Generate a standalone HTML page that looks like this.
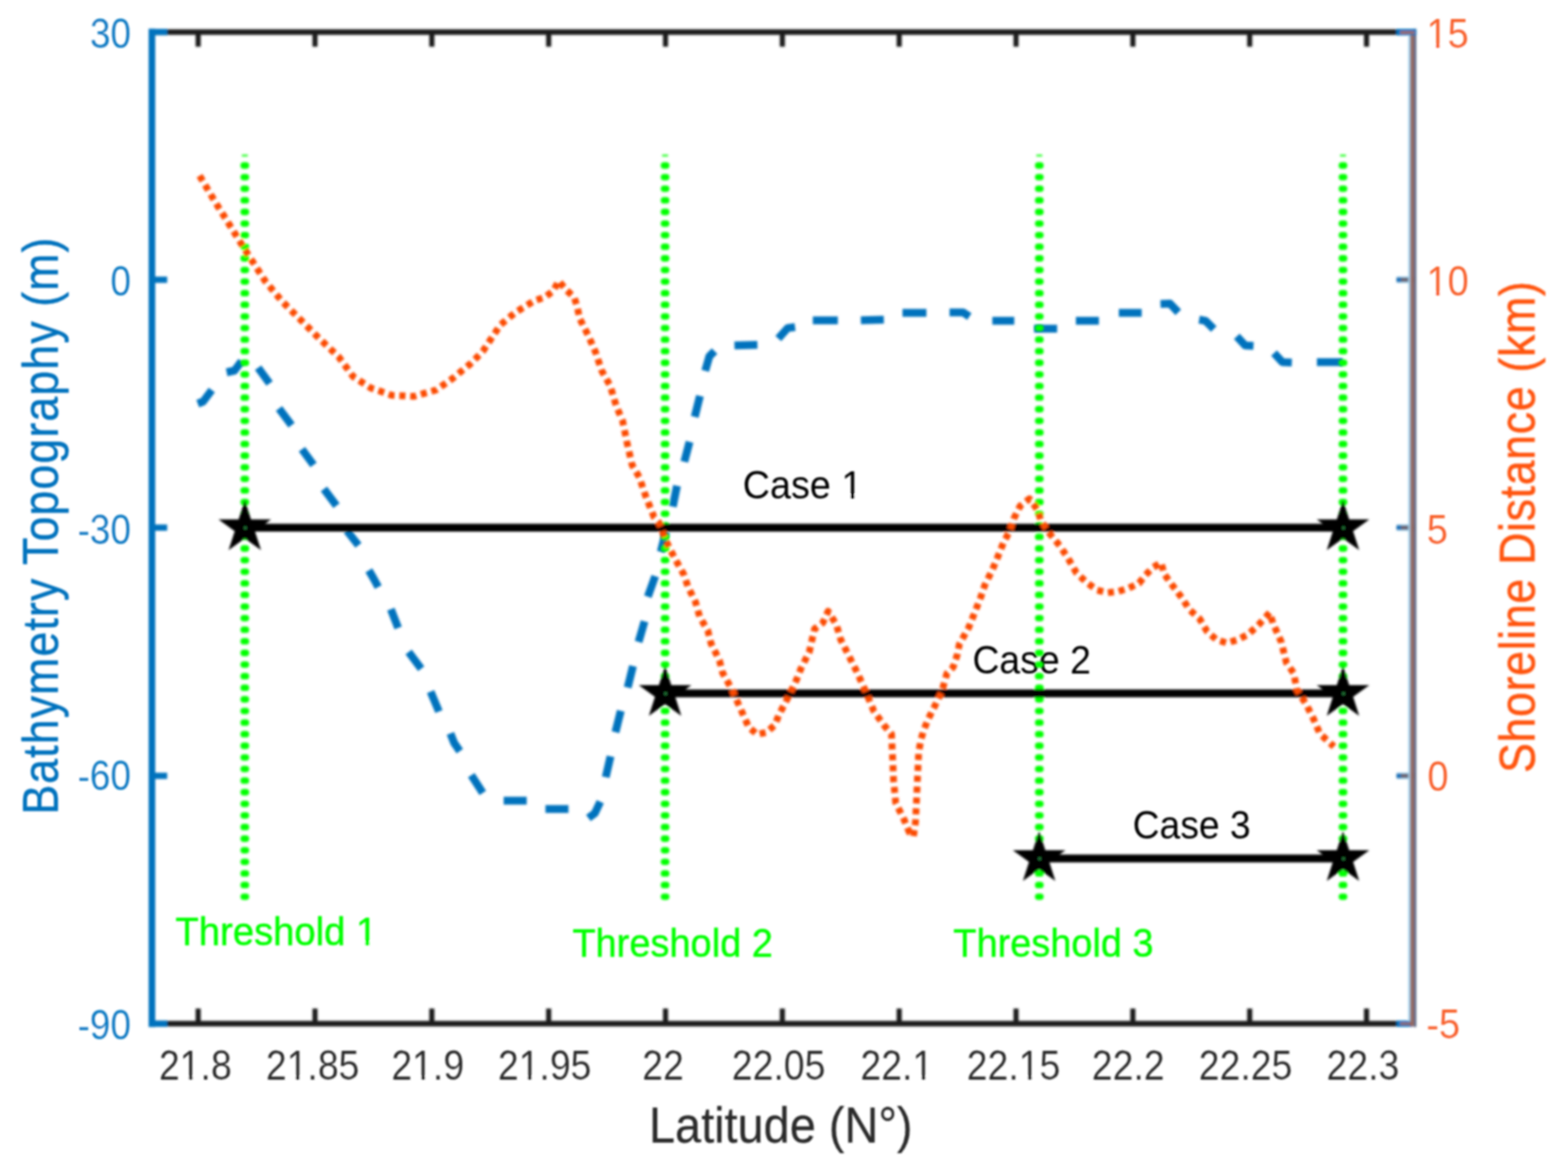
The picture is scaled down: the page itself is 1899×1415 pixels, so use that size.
<!DOCTYPE html>
<html lang="en"><head><meta charset="utf-8"><title>Bathymetry Topography and Shoreline Distance vs Latitude</title>
<style>html,body{margin:0;padding:0;background:#fff;}body{width:1899px;height:1415px;overflow:hidden;}svg{display:block;}text{font-family:"Liberation Sans",Arial,Helvetica,sans-serif;}</style>
</head><body>
<svg width="1899" height="1415" viewBox="0 0 1899 1415" role="img" aria-label="Bathymetry topography and shoreline distance versus latitude">
<defs><filter id="soft" x="0" y="0" width="1899" height="1415" filterUnits="userSpaceOnUse"><feGaussianBlur stdDeviation="1.6"/></filter><filter id="softt" x="0" y="0" width="1899" height="1415" filterUnits="userSpaceOnUse"><feGaussianBlur stdDeviation="1.15"/></filter></defs>
<rect width="1899" height="1415" fill="#fff"/>
<g filter="url(#soft)">
<g fill="none" stroke="#0072BD" stroke-width="9.5" stroke-linejoin="round">
<path d="M239.5,489.0 L246.0,486.5 L256.5,472.5"/>
<path d="M274.5,451.0 L284.0,449.0 L292.5,437.5"/>
<path d="M312.6,445.5 L326.5,464.5"/>
<path d="M337.9,494.9 L353.1,515.1"/>
<path d="M365.7,544.2 L379.7,563.2"/>
<path d="M392.3,592.3 L407.5,612.6"/>
<path d="M420.1,642.9 L434.1,660.6"/>
<path d="M446.7,691.0 L452.0,700.0 L458.1,711.2"/>
<path d="M473.4,738.0 L482.2,760.7"/>
<path d="M494.9,789.8 L510.1,810.1"/>
<path d="M521.5,837.9 L531.6,862.0"/>
<path d="M545.5,888.5 L550.0,900.0 L556.9,910.0"/>
<path d="M570.8,939.1 L584.7,960.6"/>
<path d="M610.0,970.0 L637.9,970.0"/>
<path d="M660.6,980.1 L688.5,980.1"/>
<path d="M712.6,991.0 L720.4,985.2 L727.0,971.3"/>
<path d="M733.6,941.5 L739.4,916.2"/>
<path d="M745.4,887.0 L751.8,861.2"/>
<path d="M760.2,832.8 L766.6,806.8"/>
<path d="M773.4,777.6 L780.6,752.8"/>
<path d="M784.6,722.8 L793.5,698.0"/>
<path d="M800.3,668.5 L806.5,644.0"/>
<path d="M814.8,613.8 L819.9,588.5"/>
<path d="M828.8,559.4 L835.1,535.3"/>
<path d="M841.4,505.0 L847.7,479.7"/>
<path d="M854.1,449.3 L859.1,431.6 L865.4,425.3"/>
<path d="M889.5,418.4 L917.3,417.7"/>
<path d="M942.6,410.1 L954.0,397.4 L962.9,396.2"/>
<path d="M984.4,388.1 L1014.7,388.1"/>
<path d="M1042.6,388.0 L1070.4,387.3"/>
<path d="M1093.0,379.0 L1122.0,379.0"/>
<path d="M1150.0,378.4 L1166.4,378.4 L1174.0,383.5"/>
<path d="M1201.8,388.6 L1228.4,388.6"/>
<path d="M1252.4,398.2 L1280.3,398.2"/>
<path d="M1303.0,388.6 L1330.9,388.6"/>
<path d="M1355.0,379.0 L1382.7,379.0"/>
<path d="M1405.5,368.3 L1416.9,367.8 L1427.0,378.4"/>
<path d="M1452.3,387.3 L1460.0,388.6 L1470.0,398.7"/>
<path d="M1497.9,407.5 L1508.0,418.4 L1518.1,419.0"/>
<path d="M1543.0,427.8 L1553.1,438.7 L1564.5,439.2"/>
<path d="M1594.9,438.7 L1626.0,438.7"/>
</g>
</g>
<g filter="url(#softt)"><text transform="translate(1177.63,815.80) scale(0.9248,1)" font-size="49.0px" fill="#000000">Case 2</text></g>
<g filter="url(#soft)">
<g fill="none" stroke="#00FF00" stroke-width="7.8" stroke-linecap="round">
<path d="M295.10,200.50h2.8M295.10,214.56h2.8M295.10,228.62h2.8M295.10,242.68h2.8M295.10,256.74h2.8M295.10,270.80h2.8M295.10,284.86h2.8M295.10,298.92h2.8M295.10,312.98h2.8M295.10,327.04h2.8M295.10,341.10h2.8M295.10,355.16h2.8M295.10,369.22h2.8M295.10,383.28h2.8M295.10,397.34h2.8M295.10,411.40h2.8M295.10,425.46h2.8M295.10,439.52h2.8M295.10,453.58h2.8M295.10,467.64h2.8M295.10,481.70h2.8M295.10,495.76h2.8M295.10,509.82h2.8M295.10,523.88h2.8M295.10,537.94h2.8M295.10,552.00h2.8M295.10,566.06h2.8M295.10,580.12h2.8M295.10,594.18h2.8M295.10,608.24h2.8M295.10,622.30h2.8M295.10,636.36h2.8M295.10,650.42h2.8M295.10,664.48h2.8M295.10,678.54h2.8M295.10,692.60h2.8M295.10,706.66h2.8M295.10,720.72h2.8M295.10,734.78h2.8M295.10,748.84h2.8M295.10,762.90h2.8M295.10,776.96h2.8M295.10,791.02h2.8M295.10,805.08h2.8M295.10,819.14h2.8M295.10,833.20h2.8M295.10,847.26h2.8M295.10,861.32h2.8M295.10,875.38h2.8M295.10,889.44h2.8M295.10,903.50h2.8M295.10,917.56h2.8M295.10,931.62h2.8M295.10,945.68h2.8M295.10,959.74h2.8M295.10,973.80h2.8M295.10,987.86h2.8M295.10,1001.92h2.8M295.10,1015.98h2.8M295.10,1030.04h2.8M295.10,1044.10h2.8M295.10,1058.16h2.8M295.10,1072.22h2.8M295.10,1086.28h2.8"/>
<path d="M292.9,188.4h7.2" stroke-width="2.6" stroke-linecap="butt" stroke-opacity="0.8"/>
<path d="M804.10,200.50h2.8M804.10,214.56h2.8M804.10,228.62h2.8M804.10,242.68h2.8M804.10,256.74h2.8M804.10,270.80h2.8M804.10,284.86h2.8M804.10,298.92h2.8M804.10,312.98h2.8M804.10,327.04h2.8M804.10,341.10h2.8M804.10,355.16h2.8M804.10,369.22h2.8M804.10,383.28h2.8M804.10,397.34h2.8M804.10,411.40h2.8M804.10,425.46h2.8M804.10,439.52h2.8M804.10,453.58h2.8M804.10,467.64h2.8M804.10,481.70h2.8M804.10,495.76h2.8M804.10,509.82h2.8M804.10,523.88h2.8M804.10,537.94h2.8M804.10,552.00h2.8M804.10,566.06h2.8M804.10,580.12h2.8M804.10,594.18h2.8M804.10,608.24h2.8M804.10,622.30h2.8M804.10,636.36h2.8M804.10,650.42h2.8M804.10,664.48h2.8M804.10,678.54h2.8M804.10,692.60h2.8M804.10,706.66h2.8M804.10,720.72h2.8M804.10,734.78h2.8M804.10,748.84h2.8M804.10,762.90h2.8M804.10,776.96h2.8M804.10,791.02h2.8M804.10,805.08h2.8M804.10,819.14h2.8M804.10,833.20h2.8M804.10,847.26h2.8M804.10,861.32h2.8M804.10,875.38h2.8M804.10,889.44h2.8M804.10,903.50h2.8M804.10,917.56h2.8M804.10,931.62h2.8M804.10,945.68h2.8M804.10,959.74h2.8M804.10,973.80h2.8M804.10,987.86h2.8M804.10,1001.92h2.8M804.10,1015.98h2.8M804.10,1030.04h2.8M804.10,1044.10h2.8M804.10,1058.16h2.8M804.10,1072.22h2.8M804.10,1086.28h2.8"/>
<path d="M801.9,188.4h7.2" stroke-width="2.6" stroke-linecap="butt" stroke-opacity="0.8"/>
<path d="M1257.30,200.50h2.8M1257.30,214.56h2.8M1257.30,228.62h2.8M1257.30,242.68h2.8M1257.30,256.74h2.8M1257.30,270.80h2.8M1257.30,284.86h2.8M1257.30,298.92h2.8M1257.30,312.98h2.8M1257.30,327.04h2.8M1257.30,341.10h2.8M1257.30,355.16h2.8M1257.30,369.22h2.8M1257.30,383.28h2.8M1257.30,397.34h2.8M1257.30,411.40h2.8M1257.30,425.46h2.8M1257.30,439.52h2.8M1257.30,453.58h2.8M1257.30,467.64h2.8M1257.30,481.70h2.8M1257.30,495.76h2.8M1257.30,509.82h2.8M1257.30,523.88h2.8M1257.30,537.94h2.8M1257.30,552.00h2.8M1257.30,566.06h2.8M1257.30,580.12h2.8M1257.30,594.18h2.8M1257.30,608.24h2.8M1257.30,622.30h2.8M1257.30,636.36h2.8M1257.30,650.42h2.8M1257.30,664.48h2.8M1257.30,678.54h2.8M1257.30,692.60h2.8M1257.30,706.66h2.8M1257.30,720.72h2.8M1257.30,734.78h2.8M1257.30,748.84h2.8M1257.30,762.90h2.8M1257.30,776.96h2.8M1257.30,791.02h2.8M1257.30,805.08h2.8M1257.30,819.14h2.8M1257.30,833.20h2.8M1257.30,847.26h2.8M1257.30,861.32h2.8M1257.30,875.38h2.8M1257.30,889.44h2.8M1257.30,903.50h2.8M1257.30,917.56h2.8M1257.30,931.62h2.8M1257.30,945.68h2.8M1257.30,959.74h2.8M1257.30,973.80h2.8M1257.30,987.86h2.8M1257.30,1001.92h2.8M1257.30,1015.98h2.8M1257.30,1030.04h2.8M1257.30,1044.10h2.8M1257.30,1058.16h2.8M1257.30,1072.22h2.8M1257.30,1086.28h2.8"/>
<path d="M1255.1,188.4h7.2" stroke-width="2.6" stroke-linecap="butt" stroke-opacity="0.8"/>
<path d="M1625.10,200.50h2.8M1625.10,214.56h2.8M1625.10,228.62h2.8M1625.10,242.68h2.8M1625.10,256.74h2.8M1625.10,270.80h2.8M1625.10,284.86h2.8M1625.10,298.92h2.8M1625.10,312.98h2.8M1625.10,327.04h2.8M1625.10,341.10h2.8M1625.10,355.16h2.8M1625.10,369.22h2.8M1625.10,383.28h2.8M1625.10,397.34h2.8M1625.10,411.40h2.8M1625.10,425.46h2.8M1625.10,439.52h2.8M1625.10,453.58h2.8M1625.10,467.64h2.8M1625.10,481.70h2.8M1625.10,495.76h2.8M1625.10,509.82h2.8M1625.10,523.88h2.8M1625.10,537.94h2.8M1625.10,552.00h2.8M1625.10,566.06h2.8M1625.10,580.12h2.8M1625.10,594.18h2.8M1625.10,608.24h2.8M1625.10,622.30h2.8M1625.10,636.36h2.8M1625.10,650.42h2.8M1625.10,664.48h2.8M1625.10,678.54h2.8M1625.10,692.60h2.8M1625.10,706.66h2.8M1625.10,720.72h2.8M1625.10,734.78h2.8M1625.10,748.84h2.8M1625.10,762.90h2.8M1625.10,776.96h2.8M1625.10,791.02h2.8M1625.10,805.08h2.8M1625.10,819.14h2.8M1625.10,833.20h2.8M1625.10,847.26h2.8M1625.10,861.32h2.8M1625.10,875.38h2.8M1625.10,889.44h2.8M1625.10,903.50h2.8M1625.10,917.56h2.8M1625.10,931.62h2.8M1625.10,945.68h2.8M1625.10,959.74h2.8M1625.10,973.80h2.8M1625.10,987.86h2.8M1625.10,1001.92h2.8M1625.10,1015.98h2.8M1625.10,1030.04h2.8M1625.10,1044.10h2.8M1625.10,1058.16h2.8M1625.10,1072.22h2.8M1625.10,1086.28h2.8"/>
<path d="M1622.9,188.4h7.2" stroke-width="2.6" stroke-linecap="butt" stroke-opacity="0.8"/>
</g>
<g stroke="#000" stroke-width="9.4" fill="none">
<path d="M296.5,639.3 H1626.5"/>
<path d="M805.5,840 H1626.5"/>
<path d="M1258.5,1040 H1626.5"/>
</g>
<g fill="#000" stroke="#000" stroke-width="2.4" stroke-linejoin="miter" stroke-miterlimit="10">
<path d="M296.5,609.9 L303.1,630.4 L324.7,630.4 L307.3,643.0 L313.9,663.4 L296.5,650.8 L279.1,663.4 L285.7,643.0 L268.3,630.4 L289.9,630.4Z"/>
<path d="M1626.5,609.9 L1633.1,630.4 L1654.7,630.4 L1637.3,643.0 L1643.9,663.4 L1626.5,650.8 L1609.1,663.4 L1615.7,643.0 L1598.3,630.4 L1619.9,630.4Z"/>
<path d="M805.5,810.6 L812.1,831.1 L833.7,831.1 L816.3,843.7 L822.9,864.1 L805.5,851.5 L788.1,864.1 L794.7,843.7 L777.3,831.1 L798.9,831.1Z"/>
<path d="M1626.5,810.6 L1633.1,831.1 L1654.7,831.1 L1637.3,843.7 L1643.9,864.1 L1626.5,851.5 L1609.1,864.1 L1615.7,843.7 L1598.3,831.1 L1619.9,831.1Z"/>
<path d="M1258.5,1010.6 L1265.1,1031.1 L1286.7,1031.1 L1269.3,1043.7 L1275.9,1064.1 L1258.5,1051.5 L1241.1,1064.1 L1247.7,1043.7 L1230.3,1031.1 L1251.9,1031.1Z"/>
<path d="M1626.5,1010.6 L1633.1,1031.1 L1654.7,1031.1 L1637.3,1043.7 L1643.9,1064.1 L1626.5,1051.5 L1609.1,1064.1 L1615.7,1043.7 L1598.3,1031.1 L1619.9,1031.1Z"/>
</g>
<circle cx="297.1" cy="639.5999999999999" r="1.5" fill="#2f9a4a"/>
<circle cx="1627.1" cy="639.5999999999999" r="1.5" fill="#2f9a4a"/>
<circle cx="806.1" cy="840.3" r="1.5" fill="#2f9a4a"/>
<circle cx="1627.1" cy="840.3" r="1.5" fill="#2f9a4a"/>
<circle cx="1259.1" cy="1040.3" r="1.5" fill="#2f9a4a"/>
<circle cx="1627.1" cy="1040.3" r="1.5" fill="#2f9a4a"/>
<path d="M241.7,212.8 L260.7,244.9 L273.4,265.1 L296.2,301.8 L321.5,341.0 L341.7,365.1 L361.9,385.3 L387.2,410.6 L410.0,432.1 L427.7,456.2 L449.2,470.1 L474.5,478.9 L501.1,480.2 L527.7,472.6 L547.9,458.7 L569.4,441.0 L584.6,425.8 L594.7,410.6 L606.1,393.5 L624.6,378.2 L647.4,364.2 L660.0,360.0 L670.2,352.3 L676.6,340.2 L685.3,350.8 L695.5,360.2 L699.4,373.0 L702.0,385.8 L712.4,406.3 L721.2,426.5 L728.8,449.3 L738.9,467.0 L746.5,492.3 L754.1,510.0 L759.2,535.3 L765.5,563.2 L774.4,578.3 L782.0,601.1 L792.1,626.4 L798.0,632.9 L806.8,655.7 L816.9,675.9 L828.3,696.2 L833.4,711.3 L842.2,729.0 L847.3,746.8 L857.4,764.5 L861.2,779.7 L871.3,799.9 L875.1,815.1 L886.5,835.3 L896.6,858.1 L906.8,880.9 L916.9,889.7 L928.3,887.2 L938.4,878.3 L943.5,865.7 L954.8,844.2 L965.0,822.7 L970.0,810.0 L980.1,789.8 L986.5,761.9 L996.6,754.4 L1002.9,740.4 L1013.0,756.9 L1018.1,774.6 L1028.2,794.8 L1038.3,815.1 L1048.5,837.9 L1058.2,861.3 L1070.9,879.0 L1079.7,889.2 L1081.0,917.0 L1082.2,944.8 L1084.8,972.7 L1094.9,992.9 L1101.2,1008.1 L1106.3,1013.2 L1108.8,995.4 L1110.1,967.6 L1111.3,939.8 L1112.6,911.9 L1115.1,896.8 L1118.9,884.1 L1124.0,871.5 L1134.1,851.2 L1140.4,838.6 L1146.8,815.8 L1154.4,808.2 L1159.4,793.0 L1161.9,780.4 L1173.3,760.1 L1187.6,724.0 L1192.7,708.8 L1201.5,691.1 L1207.9,675.9 L1215.5,656.9 L1222.8,643.5 L1227.8,628.3 L1235.4,613.1 L1246.8,604.3 L1256.9,618.2 L1260.7,630.9 L1270.9,646.0 L1283.5,661.2 L1293.6,676.4 L1303.7,694.1 L1316.4,706.0 L1328.5,714.8 L1341.5,718.0 L1354.6,716.4 L1367.4,712.3 L1379.4,706.6 L1387.5,696.4 L1396.4,687.5 L1406.2,681.7 L1410.0,695.4 L1420.1,709.3 L1431.5,724.5 L1440.4,738.4 L1453.0,749.8 L1461.9,765.0 L1473.3,775.1 L1485.9,778.9 L1498.6,775.1 L1511.2,768.8 L1523.9,757.4 L1537.8,742.2 L1541.6,754.8 L1551.7,777.6 L1558.0,802.9 L1566.9,815.6 L1570.7,835.8 L1582.1,853.5 L1590.9,871.2 L1598.5,888.9 L1612.4,901.6 L1615.5,904.5" fill="none" stroke="#FB4A04" stroke-width="8.2" stroke-dasharray="7.4 5.8" stroke-linejoin="round"/>
<g stroke="#1c1c1c" stroke-width="6.8" fill="none">
<path d="M184.0,38.8 H1692"/><path d="M184.0,1240.2 H1692"/>
</g>
<g stroke="#1c1c1c" stroke-width="6.2" fill="none">
<path d="M240.0,38.8 V56.6"/><path d="M240.0,1240.2 V1221.8"/>
<path d="M381.5,38.8 V56.6"/><path d="M381.5,1240.2 V1221.8"/>
<path d="M523.0,38.8 V56.6"/><path d="M523.0,1240.2 V1221.8"/>
<path d="M664.5,38.8 V56.6"/><path d="M664.5,1240.2 V1221.8"/>
<path d="M806.0,38.8 V56.6"/><path d="M806.0,1240.2 V1221.8"/>
<path d="M947.5,38.8 V56.6"/><path d="M947.5,1240.2 V1221.8"/>
<path d="M1089.0,38.8 V56.6"/><path d="M1089.0,1240.2 V1221.8"/>
<path d="M1230.5,38.8 V56.6"/><path d="M1230.5,1240.2 V1221.8"/>
<path d="M1372.0,38.8 V56.6"/><path d="M1372.0,1240.2 V1221.8"/>
<path d="M1513.5,38.8 V56.6"/><path d="M1513.5,1240.2 V1221.8"/>
<path d="M1655.0,38.8 V56.6"/><path d="M1655.0,1240.2 V1221.8"/>
</g>
<path d="M1691.5,38.8 H1711" stroke="#0072BD" stroke-width="7.6" fill="none"/>
<path d="M1696,38.8 H1712" stroke="#B0683F" stroke-width="2.2" fill="none"/>
<path d="M1691.5,338.9 H1712" stroke="#9fd4f2" stroke-width="8" fill="none"/>
<path d="M1691.5,338.9 H1712" stroke="#6A5E6C" stroke-width="5" fill="none"/>
<path d="M1691.5,338.9 h5" stroke="#0072BD" stroke-width="5.4" fill="none"/>
<path d="M1708,338.9 h4.5" stroke="#D2622F" stroke-width="5" fill="none"/>
<path d="M1691.5,639.2 H1712" stroke="#9fd4f2" stroke-width="8" fill="none"/>
<path d="M1691.5,639.2 H1712" stroke="#6A5E6C" stroke-width="5" fill="none"/>
<path d="M1691.5,639.2 h5" stroke="#0072BD" stroke-width="5.4" fill="none"/>
<path d="M1708,639.2 h4.5" stroke="#D2622F" stroke-width="5" fill="none"/>
<path d="M1691.5,939.9 H1712" stroke="#9fd4f2" stroke-width="8" fill="none"/>
<path d="M1691.5,939.9 H1712" stroke="#6A5E6C" stroke-width="5" fill="none"/>
<path d="M1691.5,939.9 h5" stroke="#0072BD" stroke-width="5.4" fill="none"/>
<path d="M1708,939.9 h4.5" stroke="#D2622F" stroke-width="5" fill="none"/>
<path d="M1691.5,1240.2 H1711" stroke="#0072BD" stroke-width="7.6" fill="none"/>
<path d="M1696,1240.2 H1712" stroke="#B0683F" stroke-width="2.2" fill="none"/>
<path d="M1706.8,37.8 V1237.2" stroke="#9fd4f2" stroke-width="2.4" fill="none"/>
<path d="M1710.2,36.8 V1243.2" stroke="#96665A" stroke-width="4.6" fill="none"/>
<path d="M1713.8,34.8 V1244.2" stroke="#4E5E7E" stroke-width="2.8" fill="none"/>
<path d="M1691.5,38.8 H1715.2" stroke="#0072BD" stroke-width="7.6" fill="none"/>
<path d="M1696,39.4 H1713" stroke="#C0673A" stroke-width="2.4" fill="none"/>
<path d="M184.0,34.8 V1244.2" stroke="#0072BD" stroke-width="8" fill="none"/>
<path d="M184.0,38.8 H202.5" stroke="#0072BD" stroke-width="7.6" fill="none"/>
<path d="M184.0,338.9 H202.5" stroke="#0072BD" stroke-width="7.6" fill="none"/>
<path d="M184.0,639.2 H202.5" stroke="#0072BD" stroke-width="7.6" fill="none"/>
<path d="M184.0,939.9 H202.5" stroke="#0072BD" stroke-width="7.6" fill="none"/>
<path d="M184.0,1240.2 H202.5" stroke="#0072BD" stroke-width="7.6" fill="none"/>
</g>
<g filter="url(#softt)">
<text transform="translate(192.42,1308.00) scale(0.9189,1)" font-size="49.3px" fill="#2a2a2a" stroke="#fff" stroke-width="0.1">21.8</text><path transform="translate(192.42,1308.00) scale(0.9189,1)" fill="#fff" d="M29.77,-4.28H39.52V0.60H29.77ZM44.47,-4.28H53.83V0.60H44.47Z"/>
<text transform="translate(321.94,1308.00) scale(0.9189,1)" font-size="49.3px" fill="#2a2a2a" stroke="#fff" stroke-width="0.1">21.85</text><path transform="translate(321.94,1308.00) scale(0.9189,1)" fill="#fff" d="M29.77,-4.28H39.52V0.60H29.77ZM44.47,-4.28H53.83V0.60H44.47Z"/>
<text transform="translate(473.93,1308.00) scale(0.9189,1)" font-size="49.3px" fill="#2a2a2a" stroke="#fff" stroke-width="0.1">21.9</text><path transform="translate(473.93,1308.00) scale(0.9189,1)" fill="#fff" d="M29.77,-4.28H39.52V0.60H29.77ZM44.47,-4.28H53.83V0.60H44.47Z"/>
<text transform="translate(602.94,1308.00) scale(0.9189,1)" font-size="49.3px" fill="#2a2a2a" stroke="#fff" stroke-width="0.1">21.95</text><path transform="translate(602.94,1308.00) scale(0.9189,1)" fill="#fff" d="M29.77,-4.28H39.52V0.60H29.77ZM44.47,-4.28H53.83V0.60H44.47Z"/>
<text transform="translate(777.86,1308.00) scale(0.9189,1)" font-size="49.3px" fill="#2a2a2a" stroke="#fff" stroke-width="0.1">22</text>
<text transform="translate(886.34,1308.00) scale(0.9189,1)" font-size="49.3px" fill="#2a2a2a" stroke="#fff" stroke-width="0.1">22.05</text>
<text transform="translate(1042.03,1308.00) scale(0.9189,1)" font-size="49.3px" fill="#2a2a2a" stroke="#fff" stroke-width="0.1">22.1</text><path transform="translate(1042.03,1308.00) scale(0.9189,1)" fill="#fff" d="M70.89,-4.28H80.63V0.60H70.89ZM85.59,-4.28H94.95V0.60H85.59Z"/>
<text transform="translate(1170.79,1308.00) scale(0.9189,1)" font-size="49.3px" fill="#2a2a2a" stroke="#fff" stroke-width="0.1">22.15</text><path transform="translate(1170.79,1308.00) scale(0.9189,1)" fill="#fff" d="M70.89,-4.28H80.63V0.60H70.89ZM85.59,-4.28H94.95V0.60H85.59Z"/>
<text transform="translate(1322.34,1308.00) scale(0.9189,1)" font-size="49.3px" fill="#2a2a2a" stroke="#fff" stroke-width="0.1">22.2</text>
<text transform="translate(1451.79,1308.00) scale(0.9189,1)" font-size="49.3px" fill="#2a2a2a" stroke="#fff" stroke-width="0.1">22.25</text>
<text transform="translate(1606.62,1308.00) scale(0.9189,1)" font-size="49.3px" fill="#2a2a2a" stroke="#fff" stroke-width="0.1">22.3</text>
<text transform="translate(108.89,57.75) scale(0.9080,1)" font-size="49.3px" fill="#0A7CC4" stroke="#fff" stroke-width="0.1">30</text>
<text transform="translate(133.73,357.85) scale(0.9080,1)" font-size="49.3px" fill="#0A7CC4" stroke="#fff" stroke-width="0.1">0</text>
<text transform="translate(93.89,659.15) scale(0.9080,1)" font-size="49.3px" fill="#0A7CC4" stroke="#fff" stroke-width="0.1">-30</text>
<text transform="translate(93.89,957.05) scale(0.9080,1)" font-size="49.3px" fill="#0A7CC4" stroke="#fff" stroke-width="0.1">-60</text>
<text transform="translate(93.89,1258.65) scale(0.9080,1)" font-size="49.3px" fill="#0A7CC4" stroke="#fff" stroke-width="0.1">-90</text>
<text transform="translate(1727.69,58.00) scale(0.9307,1)" font-size="49.3px" fill="#F8602A" stroke="#fff" stroke-width="0.1">15</text><path transform="translate(1727.69,58.00) scale(0.9307,1)" fill="#fff" d="M2.36,-4.28H12.10V0.60H2.36ZM17.05,-4.28H26.41V0.60H17.05Z"/>
<text transform="translate(1727.69,357.95) scale(0.9307,1)" font-size="49.3px" fill="#F8602A" stroke="#fff" stroke-width="0.1">10</text><path transform="translate(1727.69,357.95) scale(0.9307,1)" fill="#fff" d="M2.36,-4.28H12.10V0.60H2.36ZM17.05,-4.28H26.41V0.60H17.05Z"/>
<text transform="translate(1728.06,659.25) scale(0.9307,1)" font-size="49.3px" fill="#F8602A" stroke="#fff" stroke-width="0.1">5</text>
<text transform="translate(1728.66,957.95) scale(0.9307,1)" font-size="49.3px" fill="#F8602A" stroke="#fff" stroke-width="0.1">0</text>
<text transform="translate(1727.54,1257.75) scale(0.9307,1)" font-size="49.3px" fill="#F8602A" stroke="#fff" stroke-width="0.1">-5</text>
<text transform="translate(786.02,1384.20) scale(0.9430,1)" font-size="60.2px" fill="#2a2a2a" stroke="#2a2a2a" stroke-width="0.25" stroke-linejoin="round">Latitude (N°)</text>
<text transform="translate(70.00,986.97) rotate(-90) scale(0.9000,1)" font-size="60.2px" fill="#0072BD" stroke="#0072BD" stroke-width="0.5" stroke-linejoin="round" letter-spacing="1.475">Bathymetry Topography (m)</text>
<text transform="translate(1858.50,936.44) rotate(-90) scale(0.9000,1)" font-size="60.2px" fill="#FF5410" stroke="#FF5410" stroke-width="0.5" stroke-linejoin="round" letter-spacing="0.900">Shoreline Distance (km)</text>
<text transform="translate(899.51,603.60) scale(0.9338,1)" font-size="49.0px" fill="#000000">Case 1</text><path transform="translate(899.51,603.60) scale(0.9338,1)" fill="#fff" d="M130.34,-4.26H139.98V0.60H130.34ZM145.01,-4.26H154.27V0.60H145.01Z"/>
<text transform="translate(1371.74,1015.80) scale(0.9212,1)" font-size="49.0px" fill="#000000">Case 3</text>
<text transform="translate(212.46,1145.20) scale(0.9604,1)" font-size="48.2px" fill="#00FF00" stroke="#00FF00" stroke-width="0.5" stroke-linejoin="round">Threshold 1</text><path transform="translate(212.46,1145.20) scale(0.9604,1)" fill="#fff" d="M229.76,-4.45H239.25V0.85H229.76ZM244.71,-4.45H253.84V0.85H244.71Z"/>
<text transform="translate(693.16,1159.20) scale(0.9546,1)" font-size="48.2px" fill="#00FF00" stroke="#00FF00" stroke-width="0.5" stroke-linejoin="round">Threshold 2</text>
<text transform="translate(1154.57,1159.40) scale(0.9532,1)" font-size="48.2px" fill="#00FF00" stroke="#00FF00" stroke-width="0.5" stroke-linejoin="round">Threshold 3</text>
</g>
</svg></body></html>
